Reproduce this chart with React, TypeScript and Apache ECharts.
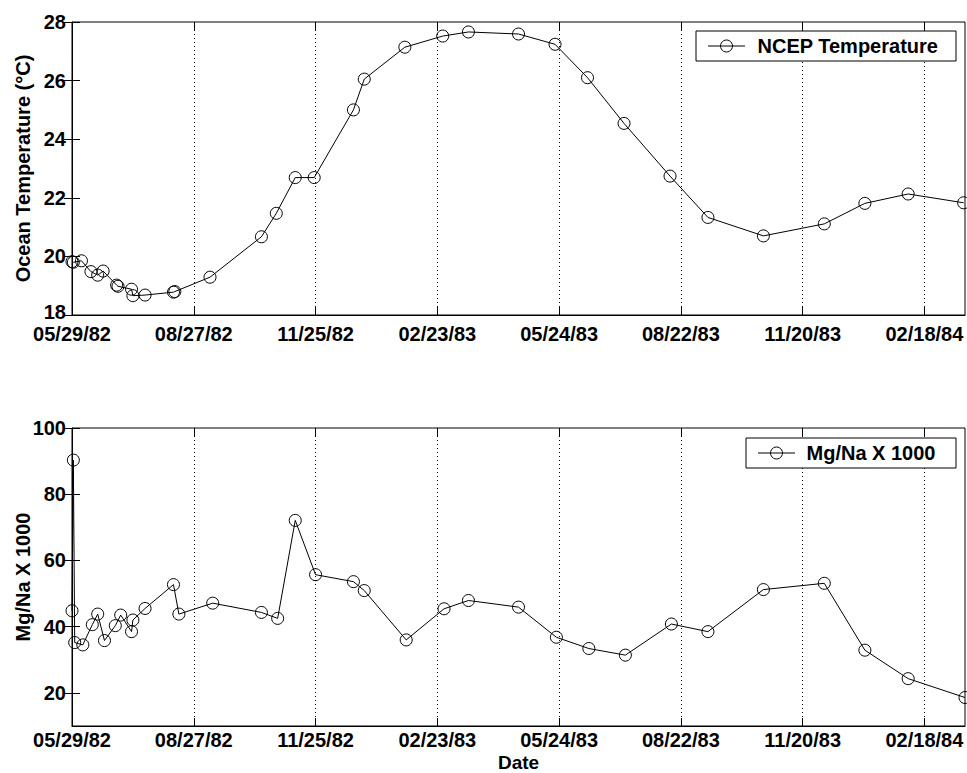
import React, { useEffect, useRef } from "react";
import * as echarts from "echarts";

// ---- data ----
const START_DATE = "1982-05-29";
const END_DATE = "1984-03-19";

const tickLabels = ["05/29/82", "08/27/82", "11/25/82", "02/23/83", "05/24/83", "08/22/83", "11/20/83", "02/18/84"];

const tempTicks = [18, 20, 22, 24, 26, 28];
const ratioTicks = [20, 40, 60, 80, 100];

const tempDates = [
  "1982-05-29", "1982-05-30", "1982-06-05", "1982-06-12", "1982-06-17", "1982-06-21",
  "1982-07-01", "1982-07-02", "1982-07-12", "1982-07-13", "1982-07-22", "1982-08-12",
  "1982-08-13", "1982-09-08", "1982-10-16", "1982-10-27", "1982-11-10", "1982-11-24",
  "1982-12-23", "1982-12-31", "1983-01-30", "1983-02-27", "1983-03-18", "1983-04-24",
  "1983-05-21", "1983-06-14", "1983-07-11", "1983-08-14", "1983-09-11", "1983-10-22",
  "1983-12-06", "1984-01-05", "1984-02-06", "1984-03-18",
];
const tempValues = [
  19.82, 19.8, 19.85, 19.48, 19.36, 19.5,
  19.02, 18.98, 18.88, 18.66, 18.68, 18.78,
  18.8, 19.29, 20.67, 21.47, 22.69, 22.69,
  25.0, 26.05, 27.14, 27.52, 27.66, 27.59,
  27.24, 26.1, 24.54, 22.74, 21.33, 20.7,
  21.11, 21.81, 22.13, 21.83,
];

const ratioDates = [
  "1982-05-29", "1982-05-30", "1982-05-31", "1982-06-06", "1982-06-13", "1982-06-17",
  "1982-06-22", "1982-06-30", "1982-07-04", "1982-07-12", "1982-07-13", "1982-07-22",
  "1982-08-12", "1982-08-16", "1982-09-10", "1982-10-16", "1982-10-28", "1982-11-10",
  "1982-11-25", "1982-12-23", "1982-12-31", "1983-01-31", "1983-02-28", "1983-03-18",
  "1983-04-24", "1983-05-22", "1983-06-15", "1983-07-12", "1983-08-15", "1983-09-11",
  "1983-10-22", "1983-12-06", "1984-01-05", "1984-02-06", "1984-03-19",
];
const ratioValues = [
  44.8, 90.3, 35.2, 34.5, 40.6, 43.8,
  35.8, 40.3, 43.5, 38.5, 42.0, 45.5,
  52.7, 43.8, 47.1, 44.3, 42.5, 72.1,
  55.7, 53.6, 50.9, 36.0, 45.4, 47.9,
  45.9, 36.8, 33.4, 31.4, 40.8, 38.5,
  51.2, 53.1, 32.9, 24.3, 18.6,
];

// ---- helpers ----
const FONT = "'Liberation Sans', Arial, Helvetica, sans-serif";
const isoToUTC = (iso: string) => {
  const [y, m, d] = iso.split("-").map(Number);
  return Date.UTC(y, m - 1, d);
};
const dayOf = (iso: string) => Math.round((isoToUTC(iso) - isoToUTC(START_DATE)) / 86400000);
const dayOfLabel = (lbl: string) => {
  const [m, d, y] = lbl.split("/").map(Number);
  return dayOf(`${1900 + y}-${m}-${d}`);
};

export default function App() {
  const ref = useRef<HTMLDivElement>(null);

  useEffect(() => {
    if (!ref.current) return;
    const chart = echarts.init(ref.current, null, { renderer: "svg" });

    const tickDays = tickLabels.map(dayOfLabel);
    const labelMap = new Map<number, string>(tickDays.map((d, i) => [d, tickLabels[i]]));
    const xMax = dayOf(END_DATE);

    const textStyle = { color: "#000", fontSize: 20, fontWeight: "bold" as const, fontFamily: FONT };
    const tickStyle = { show: true, inside: true, length: 8, lineStyle: { color: "#000", width: 1 } };

    const xAxesFor = (gridIndex: number, name: string, labelMargin: number) => [
      {
        type: "value",
        gridIndex,
        position: "bottom",
        min: 0,
        max: xMax,
        interval: 90,
        name,
        nameLocation: "middle",
        nameGap: 28,
        nameMoveOverlap: false,
        nameTextStyle: { ...textStyle, fontSize: 19, lineHeight: 16 },
        axisLine: { show: true, lineStyle: { color: "#000", width: 1 } },
        axisTick: { ...tickStyle, customValues: tickDays },
        axisLabel: {
          customValues: tickDays,
          formatter: (v: number) => labelMap.get(Math.round(v)) ?? "",
          margin: labelMargin,
          ...textStyle,
          lineHeight: 16,
        },
        splitLine: { show: true, lineStyle: { color: "#000", width: 1, type: [1, 3] } },
      },
      {
        type: "value",
        gridIndex,
        position: "top",
        min: 0,
        max: xMax,
        interval: 90,
        axisLine: { show: false },
        axisTick: { ...tickStyle, customValues: tickDays },
        axisLabel: { show: false },
        splitLine: { show: false },
      },
    ];

    const yAxesFor = (gridIndex: number, name: string, min: number, max: number, ticks: number[]) => [
      {
        type: "value",
        gridIndex,
        position: "left",
        min,
        max,
        name,
        nameLocation: "middle",
        nameGap: 39,
        nameRotate: 90,
        nameMoveOverlap: false,
        nameTextStyle: textStyle,
        axisLine: { show: true, lineStyle: { color: "#000", width: 1 } },
        axisTick: { ...tickStyle, customValues: ticks },
        axisLabel: {
          customValues: ticks,
          margin: 6,
          ...textStyle,
          lineHeight: 15,
          formatter: (v: number) => (v === min ? `{lo|${v}}` : `${v}`),
          rich: { lo: { ...textStyle, lineHeight: 15, padding: [0, 0, 6, 0] } },
        },
        splitLine: { show: false },
      },
      {
        type: "value",
        gridIndex,
        position: "right",
        min,
        max,
        axisLine: { show: false },
        axisTick: { ...tickStyle, customValues: ticks },
        axisLabel: { show: false },
        splitLine: { show: false },
      },
    ];

    const seriesStyle = {
      type: "line",
      symbol: "circle",
      symbolSize: 12,
      showAllSymbol: true,
      clip: false,
      lineStyle: { color: "#000", width: 1 },
      itemStyle: { color: "rgba(0,0,0,0)", borderColor: "#000", borderWidth: 1 },
      emphasis: { disabled: true },
      silent: true,
    };

    const legendBox = (x: number, y: number, w: number, h: number, lineX1: number, lineX2: number, textX: number, label: string) => {
      const cy = y + h / 2;
      return [
        { type: "rect", shape: { x, y, width: w, height: h }, style: { fill: "#fff", stroke: "#000", lineWidth: 1 }, z: 100 },
        { type: "line", shape: { x1: lineX1, y1: cy, x2: lineX2, y2: cy }, style: { stroke: "#000", lineWidth: 1 }, z: 101 },
        { type: "circle", shape: { cx: (lineX1 + lineX2) / 2, cy, r: 6 }, style: { fill: "none", stroke: "#000", lineWidth: 1 }, z: 102 },
        {
          type: "text",
          x: textX,
          y: cy,
          style: { text: label, fill: "#000", font: `bold 20px ${FONT}`, verticalAlign: "middle", align: "left" },
          z: 102,
        },
      ];
    };

    const gridBase = {
      show: true,
      borderColor: "#000",
      borderWidth: 1,
      backgroundColor: "transparent",
      containLabel: false,
      outerBoundsMode: "none",
    };

    chart.setOption({
      animation: false,
      backgroundColor: "#fff",
      grid: [
        { ...gridBase, left: 72, top: 22, width: 893, height: 293 },
        { ...gridBase, left: 72, top: 428, width: 893, height: 298 },
      ],
      xAxis: [...xAxesFor(0, "", 11), ...xAxesFor(1, "Date", 6)],
      yAxis: [
        ...yAxesFor(0, "Ocean Temperature (°C)", 18, 28, tempTicks),
        ...yAxesFor(1, "Mg/Na X 1000", 10, 100, ratioTicks),
      ],
      series: [
        {
          ...seriesStyle,
          name: "NCEP Temperature",
          xAxisIndex: 0,
          yAxisIndex: 0,
          data: tempDates.map((d, i) => [dayOf(d), tempValues[i]]),
        },
        {
          ...seriesStyle,
          name: "Mg/Na X 1000",
          xAxisIndex: 2,
          yAxisIndex: 2,
          data: ratioDates.map((d, i) => [dayOf(d), ratioValues[i]]),
        },
      ],
      graphic: [
        ...legendBox(696, 31, 260, 30, 708, 745, 757.5, "NCEP Temperature"),
        ...legendBox(746, 438, 210, 30, 758, 795, 806.5, "Mg/Na X 1000"),
      ],
    });

    return () => chart.dispose();
  }, []);

  return <div ref={ref} style={{ position: "absolute", left: 0, top: 0, width: 967, height: 773 }} />;
}
